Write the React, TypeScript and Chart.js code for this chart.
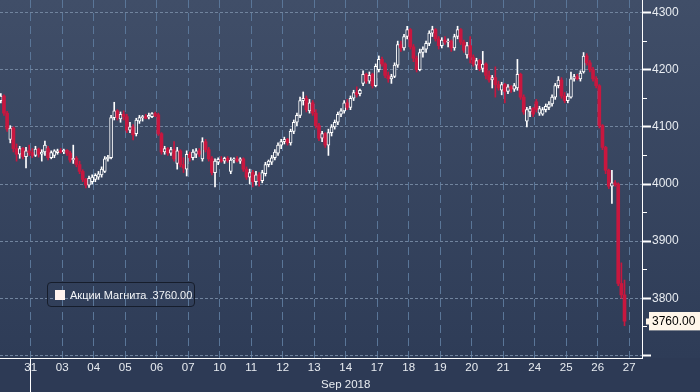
import React, { useEffect, useRef } from 'react';
import { Chart, registerables } from 'chart.js';

Chart.register(...registerables);

// ---- data ----
const dayLabels = ['30', '31', '03', '04', '05', '06', '07', '10', '11', '12', '13', '14', '17', '18', '19', '20', '21', '24', '25', '26', '27'];
const candlesPerDay = [5, 10, 10, 10, 10, 10, 10, 10, 10, 10, 10, 10, 10, 10, 10, 10, 10, 10, 10, 10, 4];
const slotsPerDay = 10;
const monthLabel = 'Sep 2018';
const monthLabelDay = '14';
const monthStartDay = '03';
const seriesName = 'Акции Магнита';
const lastPrice = 3760;
const yMajorTicks = [3700, 3800, 3900, 4000, 4100, 4200, 4300];
const yMinorTicks = [3750, 3850, 3950, 4050, 4150, 4250];
const yUnlabelled = [3700];

const opens = [
  4146, 4154, 4124, 4078, 4098,
  4062, 4052, 4062, 4048, 4058, 4055, 4050, 4061, 4052, 4056,
  4062, 4046, 4050, 4055, 4058, 4056, 4059, 4054, 4042, 4045,
  4034, 4022, 4008, 3998, 4004, 4008, 4012, 4016, 4022, 4044,
  4046, 4116, 4128, 4114, 4122, 4118, 4094, 4100, 4088, 4110,
  4116, 4118, 4117, 4118, 4123, 4121, 4088, 4056, 4062, 4054,
  4060, 4036, 4058, 4034, 4026, 4052, 4046, 4052, 4058, 4044,
  4074, 4060, 4044, 4020, 4038, 4043, 4040, 4045, 4022, 4042,
  4044, 4040, 4044, 4026, 4012, 4020, 4004, 4016, 4006, 4018,
  4034, 4038, 4046, 4054, 4068, 4074, 4078, 4072, 4092, 4108,
  4120, 4146, 4150, 4128, 4142, 4124, 4102, 4080, 4088, 4068,
  4090, 4100, 4108, 4122, 4128, 4142, 4134, 4150, 4160, 4158,
  4176, 4192, 4180, 4192, 4172, 4200, 4218, 4210, 4190, 4184,
  4188, 4208, 4244, 4238, 4258, 4270, 4240, 4220, 4200, 4230,
  4236, 4246, 4264, 4270, 4254, 4242, 4252, 4248, 4250, 4238,
  4258, 4270, 4248, 4226, 4242, 4222, 4208, 4216, 4202, 4210,
  4190, 4182, 4186, 4174, 4164, 4174, 4162, 4170, 4166, 4168,
  4192, 4152, 4110, 4126, 4132, 4144, 4124, 4122, 4130, 4134,
  4140, 4152, 4172, 4182, 4154, 4146, 4152, 4184, 4188, 4184,
  4196, 4224, 4212, 4200, 4184, 4172, 4102, 4064, 4024, 3996,
  4002, 4000, 3826, 3806,
];
const highs = [
  4158, 4156, 4127, 4102, 4100,
  4070, 4066, 4064, 4064, 4068, 4062, 4066, 4063, 4060, 4075,
  4066, 4058, 4060, 4061, 4062, 4061, 4060, 4057, 4068, 4048,
  4040, 4025, 4010, 4014, 4016, 4018, 4022, 4030, 4048, 4050,
  4120, 4143, 4130, 4126, 4128, 4122, 4108, 4104, 4115, 4120,
  4120, 4122, 4124, 4125, 4126, 4124, 4090, 4066, 4064, 4064,
  4074, 4064, 4060, 4046, 4058, 4056, 4060, 4062, 4062, 4081,
  4078, 4064, 4048, 4044, 4046, 4048, 4047, 4048, 4046, 4046,
  4048, 4046, 4046, 4030, 4026, 4024, 4022, 4020, 4024, 4038,
  4042, 4050, 4060, 4072, 4078, 4082, 4080, 4096, 4112, 4124,
  4152, 4161, 4154, 4148, 4146, 4130, 4106, 4092, 4090, 4096,
  4104, 4112, 4126, 4132, 4146, 4148, 4154, 4164, 4170, 4166,
  4198, 4194, 4196, 4194, 4210, 4224, 4222, 4212, 4196, 4192,
  4212, 4250, 4250, 4262, 4276, 4272, 4244, 4224, 4236, 4240,
  4250, 4268, 4276, 4272, 4258, 4256, 4258, 4254, 4252, 4262,
  4276, 4272, 4252, 4248, 4258, 4226, 4220, 4218, 4232, 4212,
  4198, 4190, 4205, 4180, 4178, 4176, 4174, 4172, 4176, 4218,
  4194, 4156, 4134, 4136, 4134, 4148, 4136, 4134, 4140, 4144,
  4156, 4176, 4188, 4186, 4160, 4158, 4196, 4192, 4192, 4198,
  4230, 4228, 4216, 4204, 4188, 4174, 4104, 4066, 4026, 4024,
  4006, 4002, 3862, 3832,
];
const lows = [
  4142, 4120, 4092, 4072, 4056,
  4040, 4045, 4044, 4028, 4050, 4046, 4048, 4047, 4040, 4050,
  4042, 4044, 4046, 4052, 4054, 4053, 4050, 4038, 4036, 4030,
  4018, 4004, 3993, 3994, 4000, 4004, 4008, 4012, 4020, 4040,
  4044, 4112, 4112, 4108, 4112, 4090, 4090, 4077, 4084, 4106,
  4110, 4114, 4114, 4116, 4118, 4085, 4052, 4052, 4050, 4050,
  4040, 4026, 4030, 4020, 4014, 4040, 4042, 4046, 4048, 4040,
  4056, 4040, 4016, 3995, 4034, 4038, 4036, 4038, 4018, 4037,
  4038, 4036, 4022, 4008, 4000, 3995, 3998, 3996, 4002, 4014,
  4030, 4034, 4042, 4050, 4062, 4070, 4068, 4068, 4088, 4102,
  4116, 4138, 4126, 4124, 4120, 4098, 4076, 4074, 4064, 4050,
  4084, 4096, 4104, 4118, 4124, 4130, 4130, 4146, 4152, 4154,
  4172, 4176, 4176, 4168, 4170, 4196, 4206, 4186, 4178, 4176,
  4186, 4204, 4232, 4234, 4254, 4236, 4214, 4196, 4198, 4222,
  4230, 4242, 4258, 4250, 4236, 4238, 4244, 4240, 4232, 4234,
  4254, 4244, 4230, 4220, 4212, 4206, 4200, 4198, 4196, 4184,
  4178, 4168, 4152, 4164, 4156, 4142, 4158, 4160, 4162, 4164,
  4148, 4122, 4100, 4118, 4118, 4126, 4120, 4120, 4126, 4130,
  4136, 4148, 4168, 4150, 4142, 4142, 4150, 4180, 4182, 4180,
  4194, 4208, 4196, 4180, 4168, 4098, 4060, 4018, 3992, 3966,
  3996, 3822, 3800, 3752,
];
const closes = [
  4154, 4124, 4096, 4098, 4062,
  4052, 4062, 4048, 4058, 4055, 4050, 4061, 4052, 4056, 4068,
  4046, 4055, 4058, 4058, 4056, 4059, 4054, 4042, 4045, 4034,
  4022, 4008, 3998, 4010, 4012, 4015, 4018, 4026, 4044, 4047,
  4116, 4128, 4116, 4122, 4118, 4094, 4100, 4086, 4112, 4116,
  4118, 4115, 4120, 4123, 4120, 4088, 4056, 4062, 4054, 4060,
  4044, 4058, 4034, 4028, 4052, 4046, 4056, 4058, 4052, 4074,
  4060, 4044, 4020, 4040, 4043, 4040, 4045, 4041, 4042, 4044,
  4040, 4044, 4026, 4012, 4020, 4004, 4016, 4006, 4020, 4034,
  4040, 4046, 4056, 4068, 4074, 4078, 4072, 4092, 4108, 4120,
  4146, 4150, 4130, 4142, 4124, 4102, 4080, 4088, 4068, 4090,
  4100, 4108, 4122, 4128, 4142, 4134, 4150, 4160, 4156, 4164,
  4192, 4180, 4190, 4172, 4206, 4218, 4210, 4190, 4184, 4188,
  4208, 4244, 4238, 4258, 4270, 4240, 4220, 4200, 4230, 4236,
  4246, 4264, 4270, 4254, 4242, 4252, 4248, 4250, 4238, 4258,
  4270, 4248, 4234, 4242, 4222, 4210, 4216, 4202, 4210, 4190,
  4182, 4186, 4174, 4168, 4174, 4162, 4170, 4166, 4172, 4192,
  4152, 4126, 4130, 4132, 4122, 4130, 4132, 4130, 4136, 4140,
  4152, 4172, 4182, 4154, 4146, 4154, 4184, 4188, 4184, 4194,
  4224, 4212, 4200, 4184, 4172, 4102, 4064, 4024, 3996, 4002,
  3999, 3826, 3806, 3760,
];

// ---- styles ----
const FONT = '"Liberation Sans", Arial, sans-serif';
const UP = '#ffffff';
const DOWN = '#c8173f';
const UP_FILL = '#38465f';
const LABEL = '#e8ecf1';
const H_GRID = '#71849e';
const V_GRID = '#5a7698';

function dashPattern(ctx: CanvasRenderingContext2D, color: string, on: number, off: number, vertical: boolean) {
  const c = document.createElement('canvas');
  c.width = vertical ? 1 : on + off;
  c.height = vertical ? on + off : 1;
  const g = c.getContext('2d') as CanvasRenderingContext2D;
  g.fillStyle = color;
  if (vertical) g.fillRect(0, 0, 1, on);
  else g.fillRect(0, 0, on, 1);
  return ctx.createPattern(c, 'repeat') as CanvasPattern;
}

export default function App() {
  const canvasRef = useRef<HTMLCanvasElement | null>(null);

  useEffect(() => {
    document.body.style.margin = '0';
    const canvas = canvasRef.current;
    if (!canvas) return;
    const ctx2d = canvas.getContext('2d') as CanvasRenderingContext2D;
    const vGrid = dashPattern(ctx2d, V_GRID, 8, 5, true);
    const hGrid = dashPattern(ctx2d, H_GRID, 3, 2, false);

    // candle times in trading-day units (day index + slot within session)
    const times: number[] = [];
    candlesPerDay.forEach((n, d) => {
      const start = d === 0 ? slotsPerDay - n : 0;
      for (let i = 0; i < n; i++) times.push(d + (start + i + 0.5) / slotsPerDay);
    });
    const isUp = closes.map((c, i) => c >= opens[i]);

    const dayBoundaries = dayLabels.slice(1).map((_, i) => i + 1);
    const dayCenters = dayLabels.slice(1).map((_, i) => i + 1.5);
    const monthBoundary = dayLabels.indexOf(monthStartDay);
    const yTickValues = [...yMinorTicks, ...yMajorTicks, lastPrice];

    const bgPlugin = {
      id: 'bgPlugin',
      beforeDraw(chart: any) {
        const { ctx, width, height, chartArea } = chart;
        ctx.save();
        const g = ctx.createLinearGradient(0, 0, 0, chartArea.bottom);
        g.addColorStop(0, '#404e68');
        g.addColorStop(1, '#2e3c57');
        ctx.fillStyle = g;
        ctx.fillRect(0, 0, width, chartArea.bottom);
        ctx.fillStyle = '#2d3a55';
        ctx.fillRect(0, chartArea.bottom, width, height - chartArea.bottom);
        ctx.restore();
      },
    };

    const chart = new Chart(canvas, {
      type: 'bar',
      data: {
        datasets: [
          {
            label: 'wick',
            data: times.map((t, i) => ({ x: t, y: [lows[i], highs[i]] })) as any,
            backgroundColor: isUp.map((u) => (u ? UP : DOWN)),
            borderWidth: 0,
            barThickness: 1,
            grouped: false,
            order: 2,
          } as any,
          {
            label: seriesName,
            data: times.map((t, i) => ({
              x: t,
              y: [Math.min(opens[i], closes[i]), Math.max(opens[i], closes[i])],
            })) as any,
            backgroundColor: isUp.map((u) => (u ? UP_FILL : DOWN)),
            borderColor: isUp.map((u) => (u ? UP : DOWN)),
            borderWidth: isUp.map((u) => (u ? 1 : 0)),
            borderSkipped: false,
            barThickness: 3,
            grouped: false,
            order: 1,
          } as any,
        ],
      },
      options: {
        animation: false,
        responsive: false,
        devicePixelRatio: 1,
        events: [],
        layout: { padding: 0 },
        plugins: {
          legend: { display: false },
          tooltip: { enabled: false },
        },
        scales: {
          x: {
            type: 'linear',
            position: 'bottom',
            min: 0.524,
            max: 20.905,
            offset: false,
            weight: 0,
            afterBuildTicks: (s: any) => {
              s.ticks = dayBoundaries.map((v) => ({ value: v }));
            },
            ticks: { display: false },
            grid: {
              color: vGrid,
              lineWidth: 1,
              drawTicks: true,
              tickLength: 34,
              tickWidth: 1,
              tickColor: (ctx: any) =>
                ctx.tick && ctx.tick.value === monthBoundary ? '#ffffff' : 'rgba(0,0,0,0)',
            },
            border: { display: false },
            afterFit: (s: any) => {
              s.height = 0;
              s.paddingLeft = 0;
              s.paddingRight = 0;
            },
          } as any,
          xl: {
            type: 'linear',
            position: 'bottom',
            min: 0.524,
            max: 20.905,
            offset: false,
            weight: 1,
            afterBuildTicks: (s: any) => {
              s.ticks = dayCenters.map((v) => ({ value: v }));
            },
            ticks: {
              autoSkip: false,
              maxRotation: 0,
              padding: 2,
              color: LABEL,
              font: { family: FONT, size: 11.5, lineHeight: 1.43 },
              callback: (v: any) => {
                const lbl = dayLabels[Math.floor(Number(v))];
                return lbl === monthLabelDay ? [lbl, monthLabel] : lbl;
              },
            },
            grid: { display: false, drawTicks: false },
            border: { display: true, color: '#ffffff', width: 1 },
            afterFit: (s: any) => {
              s.height = 34;
              s.paddingLeft = 0;
              s.paddingRight = 0;
            },
          } as any,
          y: {
            type: 'linear',
            position: 'right',
            min: 3695.6,
            max: 4321.9,
            afterBuildTicks: (s: any) => {
              s.ticks = yTickValues.map((v) => ({ value: v }));
            },
            ticks: {
              autoSkip: false,
              padding: 1,
              font: { family: FONT, size: 12 },
              color: (ctx: any) => (ctx.tick && ctx.tick.value === lastPrice ? '#000000' : LABEL),
              callback: (v: any) => {
                const n = Number(v);
                if (n === lastPrice) return lastPrice.toFixed(2);
                if (yMajorTicks.includes(n) && !yUnlabelled.includes(n)) return String(n);
                return '';
              },
              showLabelBackdrop: (ctx: any) => !!ctx.tick && ctx.tick.value === lastPrice,
              backdropColor: '#fff6ea',
              backdropPadding: { top: 2, bottom: 2, left: 3, right: 8 },
            },
            grid: {
              color: (ctx: any) =>
                ctx.tick && yMajorTicks.includes(ctx.tick.value) ? hGrid : 'rgba(0,0,0,0)',
              lineWidth: 1,
              drawTicks: true,
              tickLength: 9,
              tickColor: (ctx: any) =>
                ctx.tick && ctx.tick.value === lastPrice ? '#fff6ea' : '#ffffff',
              tickWidth: (ctx: any) => {
                if (!ctx.tick) return 1;
                if (ctx.tick.value === lastPrice) return 6;
                return yMajorTicks.includes(ctx.tick.value) ? 2 : 1;
              },
              tickBorderDash: (ctx: any) => {
                if (!ctx.tick) return [];
                if (ctx.tick.value === lastPrice) return [0, 3, 6, 30];
                return yMajorTicks.includes(ctx.tick.value) ? [] : [4, 30];
              },
            },
            border: { display: true, color: '#ffffff', width: 1 },
            afterFit: (s: any) => {
              s.width = 58;
              s.paddingTop = 0;
              s.paddingBottom = 0;
            },
          } as any,
        },
      },
      plugins: [bgPlugin],
    });

    return () => chart.destroy();
  }, []);

  return (
    <div style={{ position: 'relative', width: 700, height: 392 }}>
      <canvas ref={canvasRef} width={700} height={392} style={{ display: 'block' }} />
      <div
        style={{
          position: 'absolute',
          left: 47,
          top: 282,
          width: 148,
          height: 25,
          boxSizing: 'border-box',
          border: '1px solid #161d2b',
          borderRadius: 4,
          display: 'flex',
          alignItems: 'center',
          paddingLeft: 7,
          fontFamily: FONT,
          fontSize: 11,
          color: '#f2f4f7',
          whiteSpace: 'pre',
        }}
      >
        <span
          style={{ width: 10, height: 10, background: '#fff3ee', display: 'inline-block', marginRight: 5 }}
        />
        <span>{`${seriesName}  ${lastPrice.toFixed(2)}`}</span>
      </div>
    </div>
  );
}
